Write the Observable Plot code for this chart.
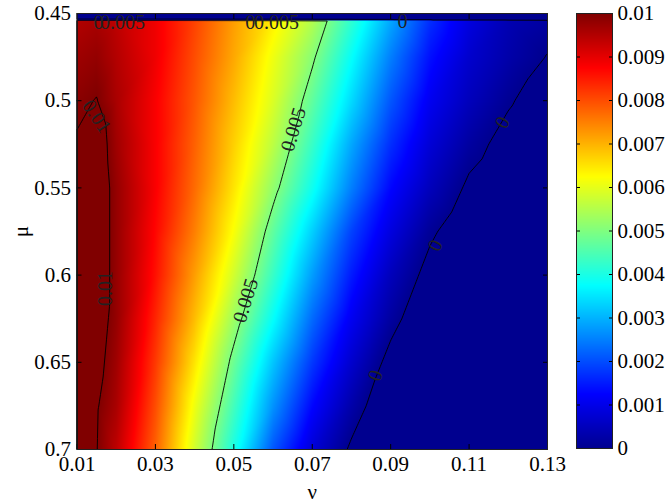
<!DOCTYPE html>
<html>
<head>
<meta charset="utf-8">
<script src="https://cdn.jsdelivr.net/npm/d3@7"></script>
<script src="https://cdn.jsdelivr.net/npm/@observablehq/plot@0.6"></script>
<style>
  html, body { margin: 0; padding: 0; background: #fff; }
  #wrap { position: relative; width: 670px; height: 503px; overflow: hidden; background: #fff; }
  #main, #cbar { position: absolute; top: 0; }
  #main { left: 0; }
  #cbar { left: 570px; }
  #wrap svg, #wrap svg text { font-family: 'Liberation Serif', 'Times New Roman', serif !important; }
</style>
</head>
<body>
<div id="wrap"><div id="main"></div><div id="cbar"></div></div>
<script>
// ---- data ----
const nu = [0.01, 0.015, 0.02, 0.03, 0.04, 0.05, 0.06, 0.07, 0.08, 0.09, 0.10, 0.11, 0.12, 0.13];
const mu = [0.45, 0.4537, 0.4540, 0.475, 0.5, 0.525, 0.55, 0.575, 0.6, 0.625, 0.65, 0.675, 0.7];
const zRows = [
  [-0.0001,-0.0001,-0.0001,-0.0001,-0.0001,-0.0001,-0.0001,-0.0001,-0.0001,-0.0001,-0.0001,-0.0001,-0.0001,-0.0001],
  [-0.0001,-0.0001,-0.0001,-0.0001,-0.0001,-0.0001,-0.0001,-0.0001,-0.0001,-0.0001,-0.0001,-0.0001,-0.0001,-0.0001],
  [0.0095,0.0096,0.0094,0.0089,0.0081,0.0072,0.0064,0.0055,0.0042,0.0029,0.0017,0.0009,0.0004,0.0002],
  [0.0097,0.0098,0.0095,0.0089,0.0080,0.0071,0.0061,0.0051,0.0038,0.0025,0.0014,0.0007,0.0003,-0.00002],
  [0.0099,0.01002,0.0096,0.0088,0.0079,0.0069,0.0059,0.0047,0.0034,0.0021,0.0011,0.0005,0.00006,-0.0003],
  [0.01005,0.01035,0.0097,0.0088,0.0078,0.0067,0.0056,0.0043,0.0029,0.0017,0.0008,0.0002,-0.0002,-0.0005],
  [0.0104,0.0104,0.0098,0.0088,0.0077,0.0065,0.0052,0.0039,0.0025,0.0013,0.0005,-0.0001,-0.0004,-0.0007],
  [0.0106,0.0104,0.0098,0.0087,0.0075,0.0062,0.0047,0.0033,0.0019,0.0009,0.0001,-0.0004,-0.0007,-0.0010],
  [0.0107,0.0104,0.0098,0.0086,0.0072,0.0058,0.0043,0.0028,0.0015,0.0005,-0.0002,-0.0006,-0.0009,-0.0012],
  [0.0107,0.0103,0.0098,0.0084,0.0069,0.0053,0.0038,0.0023,0.0011,0.0002,-0.0005,-0.0009,-0.0012,-0.0015],
  [0.0108,0.0102,0.0097,0.0082,0.0065,0.0048,0.0032,0.0018,0.0007,-0.0002,-0.0008,-0.0012,-0.0015,-0.0018],
  [0.0108,0.01005,0.0096,0.0080,0.0061,0.0044,0.0027,0.0013,0.0003,-0.0005,-0.0011,-0.0015,-0.0018,-0.0021],
  [0.0108,0.01002,0.0094,0.0078,0.0058,0.0040,0.0021,0.0008,-0.0001,-0.0008,-0.0014,-0.0018,-0.0021,-0.0024]
];
const levels = [0, 0.005, 0.01];
const xTicks = [0.01, 0.03, 0.05, 0.07, 0.09, 0.11, 0.13];
const yTicks = [0.45, 0.5, 0.55, 0.6, 0.65, 0.7];
const cbTicks = [0, 0.001, 0.002, 0.003, 0.004, 0.005, 0.006, 0.007, 0.008, 0.009, 0.01];
const contourLabels = [
  {nu: 0.0155, mu: 0.4552, text: "0", angle: 0},
  {nu: 0.0216, mu: 0.4552, text: "0.005", angle: 0},
  {nu: 0.0542, mu: 0.4552, text: "0", angle: 0},
  {nu: 0.0609, mu: 0.4552, text: "0.005", angle: 0},
  {nu: 0.0930, mu: 0.4546, text: "0", angle: 0},
  {nu: 0.0150, mu: 0.5090, text: "0.01", angle: 56},
  {nu: 0.0173, mu: 0.6077, text: "0.01", angle: -90},
  {nu: 0.0652, mu: 0.5165, text: "0.005", angle: -73},
  {nu: 0.0530, mu: 0.6146, text: "0.005", angle: -73},
  {nu: 0.1185, mu: 0.5125, text: "0", angle: -62},
  {nu: 0.1014, mu: 0.5830, text: "0", angle: -65},
  {nu: 0.0861, mu: 0.6576, text: "0", angle: -70}
];

// jet colormap
const jetDomain = [0, 0.00125, 0.00375, 0.00625, 0.00875, 0.01];
const jetRange = ["#00008f", "#0000ff", "#00ffff", "#ffff00", "#ff0000", "#800000"];

const points = [];
mu.forEach((m, i) => nu.forEach((n, j) => points.push({nu: n, mu: m, z: zRows[i][j]})));

const font = "'Liberation Serif', 'Times New Roman', serif";
const colorScale = {type: "linear", domain: jetDomain, range: jetRange, interpolate: "rgb", clamp: true};

const main = Plot.plot({
  width: 570, height: 503,
  marginLeft: 76.5, marginRight: 23, marginTop: 13, marginBottom: 54,
  style: {fontFamily: font, fontSize: "21px", color: "black", background: "transparent"},
  x: {domain: [0.01, 0.13]},
  y: {domain: [0.45, 0.7], reverse: true},
  color: colorScale,
  marks: [
    Plot.raster(points, {x: "nu", y: "mu", fill: "z", interpolate: "barycentric",
      x1: 0.01, x2: 0.13, y1: 0.45, y2: 0.7, pixelSize: 1}),
    Plot.contour(points, {x: "nu", y: "mu", value: "z", interpolate: "barycentric",
      x1: 0.01, x2: 0.13, y1: 0.45, y2: 0.7, pixelSize: 1,
      thresholds: levels, stroke: "black", strokeWidth: 0.9, fill: "none"}),
    Plot.text(contourLabels, {x: "nu", y: "mu", text: "text", rotate: "angle",
      fontSize: 20, fontFamily: font, fill: "#222"}),
    Plot.axisX(xTicks, {anchor: "bottom", tickSize: 0, tickPadding: 7, tickFormat: d => String(d),
      label: "ν", labelAnchor: "center", labelOffset: 49, labelArrow: "none", fontSize: 21, fontFamily: font}),
    Plot.axisX(xTicks, {anchor: "bottom", tickSize: -5, tickFormat: () => "", label: null}),
    Plot.axisX(xTicks, {anchor: "top", tickSize: -5, tickFormat: () => "", label: null}),
    Plot.axisY(yTicks, {anchor: "left", tickSize: 0, tickPadding: 6, tickFormat: d => String(d),
      label: "μ", labelAnchor: "center", labelOffset: 64, labelArrow: "none", fontSize: 21, fontFamily: font}),
    Plot.axisY(yTicks, {anchor: "left", tickSize: -5, tickFormat: () => "", label: null}),
    Plot.axisY(yTicks, {anchor: "right", tickSize: -5, tickFormat: () => "", label: null}),
    Plot.frame({stroke: "#222", strokeWidth: 1})
  ]
});
document.getElementById("main").appendChild(main);

const cbar = Plot.plot({
  width: 100, height: 503,
  marginLeft: 6, marginRight: 58, marginTop: 13, marginBottom: 55,
  style: {fontFamily: font, fontSize: "21px", color: "black", background: "transparent"},
  x: {domain: [0, 1], axis: null},
  y: {domain: [0, 0.01]},
  color: colorScale,
  marks: [
    Plot.raster({fill: (x, y) => y, x1: 0, x2: 1, y1: 0, y2: 0.01, pixelSize: 1}),
    Plot.axisY(cbTicks, {anchor: "right", tickSize: 0, tickPadding: 5, tickFormat: d => String(d), label: null, fontSize: 21, fontFamily: font}),
    Plot.axisY(cbTicks, {anchor: "right", tickSize: -4, tickFormat: () => "", label: null}),
    Plot.axisY(cbTicks, {anchor: "left", tickSize: -4, tickFormat: () => "", label: null}),
    Plot.frame({stroke: "#222", strokeWidth: 1})
  ]
});
document.getElementById("cbar").appendChild(cbar);
</script>
</body>
</html>
